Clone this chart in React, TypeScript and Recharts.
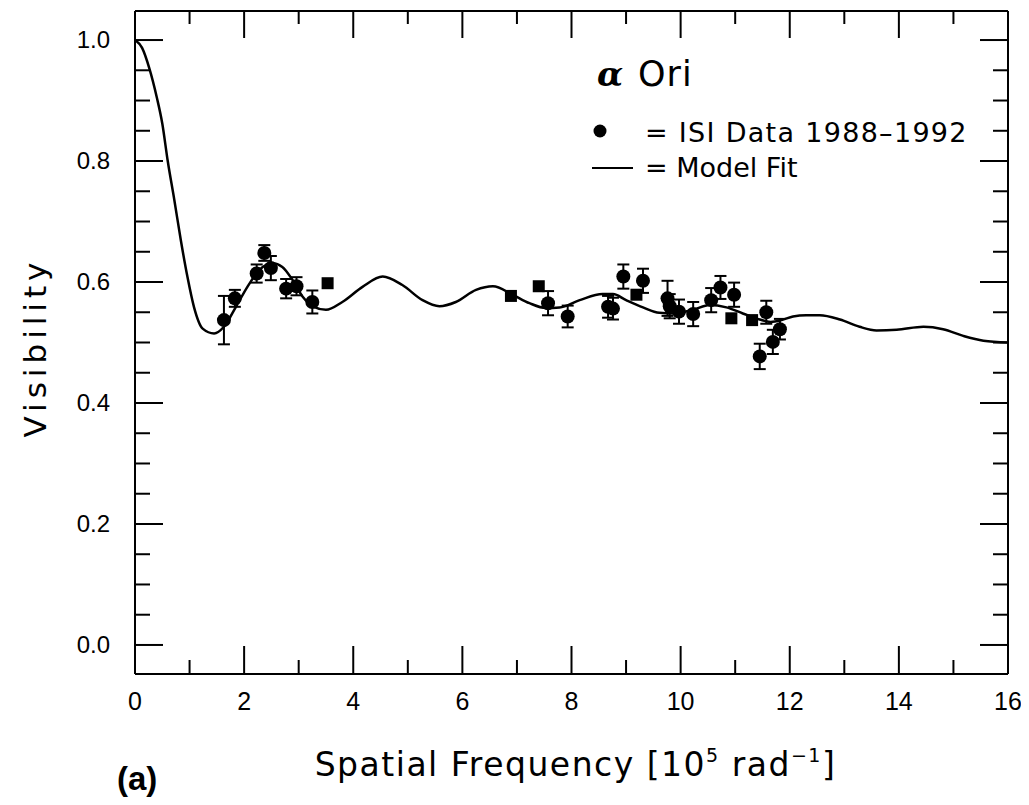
import React from "react"
import { ComposedChart, Line, Scatter, ErrorBar, XAxis, YAxis } from "recharts"

// model fit curve
const modelX = [0, 0.13, 0.26, 0.4, 0.5, 0.6, 0.72, 0.84, 0.96, 1.08, 1.24, 1.45, 1.63, 1.85, 2.06, 2.28, 2.52, 2.7, 2.89, 3.07, 3.28, 3.5, 3.8, 4.17, 4.54, 4.9, 5.27, 5.58, 5.88, 6.25, 6.56, 6.92, 7.23, 7.53, 7.78, 8.15, 8.57, 8.76, 9.0, 9.31, 9.61, 9.86, 10.23, 10.53, 10.84, 11.14, 11.45, 11.65, 11.85, 12.06, 12.3, 12.55, 12.92, 13.28, 13.59, 13.96, 14.45, 14.81, 15.18, 15.55, 16]
const modelY = [1.0, 0.987, 0.954, 0.905, 0.862, 0.8, 0.736, 0.669, 0.609, 0.559, 0.523, 0.515, 0.526, 0.559, 0.592, 0.62, 0.631, 0.625, 0.603, 0.576, 0.559, 0.554, 0.567, 0.592, 0.609, 0.595, 0.57, 0.56, 0.567, 0.587, 0.593, 0.579, 0.565, 0.557, 0.558, 0.57, 0.58, 0.58, 0.57, 0.558, 0.549, 0.548, 0.554, 0.562, 0.558, 0.548, 0.538, 0.534, 0.537, 0.543, 0.545, 0.545, 0.538, 0.526, 0.52, 0.521, 0.526, 0.522, 0.511, 0.503, 0.5]

// ISI data 1988-1992 (filled circles with error bars)
const isiX = [1.63, 1.83, 2.23, 2.37, 2.49, 2.77, 2.96, 3.25, 7.57, 7.93, 8.67, 8.76, 8.95, 9.31, 9.76, 9.8, 9.97, 10.23, 10.56, 10.73, 10.98, 11.45, 11.57, 11.69, 11.82]
const isiY = [0.537, 0.573, 0.614, 0.648, 0.623, 0.589, 0.593, 0.567, 0.565, 0.543, 0.559, 0.556, 0.609, 0.602, 0.573, 0.56, 0.551, 0.547, 0.57, 0.591, 0.579, 0.477, 0.55, 0.501, 0.522]
const isiErr = [0.04, 0.014, 0.015, 0.013, 0.02, 0.016, 0.015, 0.019, 0.02, 0.018, 0.018, 0.018, 0.02, 0.02, 0.029, 0.02, 0.02, 0.02, 0.02, 0.019, 0.02, 0.021, 0.019, 0.02, 0.017]

// filled squares
const sqX = [3.53, 6.89, 7.4, 9.19, 10.93, 11.31]
const sqY = [0.598, 0.577, 0.593, 0.579, 0.54, 0.537]

const xTicks = [0, 1, 2, 3, 4, 5, 6, 7, 8, 9, 10, 11, 12, 13, 14, 15, 16]
const yTicks = [0, 0.05, 0.1, 0.15, 0.2, 0.25, 0.3, 0.35, 0.4, 0.45, 0.5, 0.55, 0.6, 0.65, 0.7, 0.75, 0.8, 0.85, 0.9, 0.95, 1.0]

const modelData = modelX.map((x, i) => ({ x, y: modelY[i] }))
const isiData = isiX.map((x, i) => ({ x, y: isiY[i], err: isiErr[i] }))
const sqData = sqX.map((x, i) => ({ x, y: sqY[i] }))

const isMajorY = (v: number) => Math.round(v * 100) % 20 === 0

function BottomTick(props: any) {
  const { x, y, payload } = props
  const major = payload.value % 2 === 0
  return (
    <g>
      <line x1={x} x2={x} y1={y} y2={y - (major ? 28 : 14)} stroke="#000" strokeWidth={2} />
      {major && (
        <text x={x} y={y + 36} textAnchor="middle" fontSize={25} fontFamily="Liberation Sans" fill="#000">
          {payload.value}
        </text>
      )}
    </g>
  )
}

function TopTick(props: any) {
  const { x, y, payload } = props
  const major = payload.value % 2 === 0
  return <line x1={x} x2={x} y1={y} y2={y + (major ? 27 : 13)} stroke="#000" strokeWidth={2} />
}

function LeftTick(props: any) {
  const { x, y, payload } = props
  const major = isMajorY(payload.value)
  return (
    <g>
      <line x1={x} x2={x + (major ? 28 : 15)} y1={y} y2={y} stroke="#000" strokeWidth={2} />
      {major && (
        <text x={x - 25} y={y + 8} textAnchor="end" fontSize={24} fontFamily="Liberation Sans" fill="#000">
          {payload.value.toFixed(1)}
        </text>
      )}
    </g>
  )
}

function RightTick(props: any) {
  const { x, y, payload } = props
  const major = isMajorY(payload.value)
  return <line x1={x} x2={x - (major ? 28 : 15)} y1={y} y2={y} stroke="#000" strokeWidth={2} />
}

function Dot(props: any) {
  return <circle cx={props.cx} cy={props.cy} r={7} fill="#000" />
}

function Square(props: any) {
  return <rect x={props.cx - 6} y={props.cy - 6} width={12} height={12} fill="#000" />
}

function XTitle(props: any) {
  const vb = props.viewBox
  const cx = vb.x + vb.width / 2 + 4
  return (
    <text x={cx} y={vb.y + 102} textAnchor="middle" fontSize={33} fontFamily="DejaVu Sans" letterSpacing={1.5} fill="#000">
      Spatial Frequency [10
      <tspan dy={-14} fontSize={19}>5</tspan>
      <tspan dy={14}> rad</tspan>
      <tspan dy={-14} fontSize={19}>−1</tspan>
      <tspan dy={14}>]</tspan>
    </text>
  )
}

function YTitle(props: any) {
  const vb = props.viewBox
  const cx = 27
  const cy = vb.y + vb.height / 2 + 5
  return (
    <text x={cx} y={cy} transform={`rotate(-90 ${cx} ${cy})`} textAnchor="middle" dominantBaseline="central" fontSize={31} fontFamily="DejaVu Sans" letterSpacing={5} fill="#000">
      Visibility
    </text>
  )
}

export default function App() {
  return (
    <div style={{ position: "relative", width: 1021, height: 789, background: "#fff" }}>
      <ComposedChart width={1021} height={789} margin={{ top: 2, right: 20, left: 0, bottom: 0 }}>
        <XAxis
          xAxisId="b"
          dataKey="x"
          type="number"
          domain={[0, 16]}
          ticks={xTicks}
          interval={0}
          height={123}
          tickSize={0}
          tickMargin={0}
          tickLine={false}
          axisLine={{ stroke: "#000", strokeWidth: 2 }}
          tick={<BottomTick />}
          label={<XTitle />}
          allowDataOverflow
        />
        <XAxis
          xAxisId="t"
          orientation="top"
          dataKey="x"
          type="number"
          domain={[0, 16]}
          ticks={xTicks}
          interval={0}
          height={1}
          tickSize={0}
          tickMargin={0}
          tickLine={false}
          axisLine={{ stroke: "#000", strokeWidth: 2 }}
          tick={<TopTick />}
          allowDataOverflow
        />
        <YAxis
          yAxisId="l"
          type="number"
          domain={[-0.048, 1.048]}
          ticks={yTicks}
          interval={0}
          width={127}
          tickSize={0}
          tickMargin={0}
          tickLine={false}
          axisLine={{ stroke: "#000", strokeWidth: 2 }}
          tick={<LeftTick />}
          label={<YTitle />}
          allowDataOverflow
        />
        <YAxis
          yAxisId="r"
          orientation="right"
          type="number"
          domain={[-0.048, 1.048]}
          ticks={yTicks}
          interval={0}
          width={1}
          tickSize={0}
          tickMargin={0}
          tickLine={false}
          axisLine={{ stroke: "#000", strokeWidth: 2 }}
          tick={<RightTick />}
          allowDataOverflow
        />
        <Line
          xAxisId="b"
          yAxisId="l"
          data={modelData}
          dataKey="y"
          type="monotone"
          stroke="#000"
          strokeWidth={2.5}
          dot={false}
          isAnimationActive={false}
        />
        <Scatter xAxisId="b" yAxisId="l" data={isiData} dataKey="y" shape={<Dot />} isAnimationActive={false}>
          <ErrorBar dataKey="err" direction="y" width={6} stroke="#000" strokeWidth={2} isAnimationActive={false} />
        </Scatter>
        <Scatter xAxisId="b" yAxisId="l" data={sqData} dataKey="y" shape={<Square />} isAnimationActive={false} />
      </ComposedChart>

      <svg width={420} height={150} style={{ position: "absolute", left: 575, top: 40 }}>
        <text x={14} y={38} fontSize={34} fontFamily="DejaVu Serif" fontStyle="italic" fontWeight="bold" fill="#000">α</text>
        <text x={55} y={38} fontSize={35} fontFamily="DejaVu Sans" letterSpacing={1} fill="#000">Ori</text>
        <circle cx={17} cy={83} r={6.5} fill="#000" />
        <text x={62} y={94} fontSize={27} fontFamily="DejaVu Sans" letterSpacing={1.3} fill="#000">= ISI Data 1988–1992</text>
        <line x1={9} x2={50} y1={120} y2={120} stroke="#000" strokeWidth={2} />
        <text x={62} y={129} fontSize={27} fontFamily="DejaVu Sans" fill="#000">= Model Fit</text>
      </svg>

      <div style={{ position: "absolute", left: 109, top: 752, fontFamily: "Liberation Sans", fontWeight: "bold", fontSize: 33 }}>
        (a)
      </div>
    </div>
  )
}
